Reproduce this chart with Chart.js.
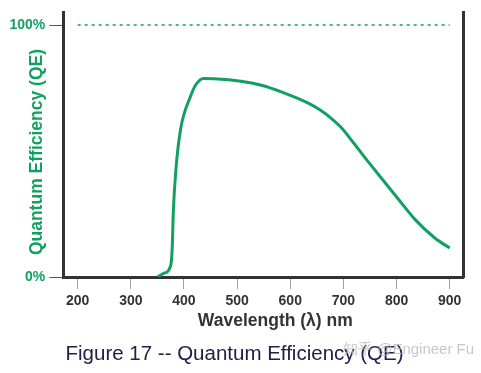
<!DOCTYPE html>
<html>
<head>
<meta charset="utf-8">
<script src="https://cdn.jsdelivr.net/npm/chart.js@4/dist/chart.umd.min.js"></script>
<style>
  html, body { margin: 0; padding: 0; background: #fff; }
  #wrap { width: 481px; height: 373px; }
</style>
</head>
<body>
<div id="wrap"><canvas id="qeChart" width="481" height="373"></canvas></div>
<script>
// Wavelength (nm) and quantum efficiency (%)
const wavelengths = [350, 362, 375, 378, 380, 385, 394, 412, 422, 437, 456, 507, 544, 588, 632, 657, 676, 695, 720, 739, 764, 802, 835, 872, 900];
const qeValues    = [0,   1.5, 4.5, 12,  26,  43,  59,  71.5, 76.2, 78.8, 78.7, 77.7, 76.2, 73.1, 69.2, 66.2, 63.2, 59.5, 53, 47.8, 41.2, 31.3, 22.8, 15.5, 11.5];

// 100% reference line
const refWavelengths = [200, 900];
const refValues = [100, 100];

const xTicks = [200, 300, 400, 500, 600, 700, 800, 900];
const yTicks = [0, 100];
const yTickLabels = { 0: '0%', 100: '100%' };

const GREEN = '#12a060';
const DARK = '#333333';
const FONT = "'Liberation Sans', Arial, sans-serif";

const watermark = {
    id: 'watermark',
    afterDraw(chart) {
        const ctx = chart.ctx;
        ctx.save();
        ctx.font = '15px ' + FONT;
        ctx.fillStyle = 'rgba(185, 185, 190, 0.8)';
        ctx.textBaseline = 'middle';
        ctx.fillText('知乎 @Engineer Fu', 343, 350);
        ctx.restore();
    }
};

new Chart(document.getElementById('qeChart').getContext('2d'), {
    type: 'line',
    data: {
        datasets: [{
            label: 'QE',
            data: wavelengths.map((w, i) => ({ x: w, y: qeValues[i] })),
            borderColor: GREEN,
            borderWidth: 3,
            pointRadius: 0,
            cubicInterpolationMode: 'monotone',
            fill: false
        }, {
            label: '100%',
            data: refWavelengths.map((w, i) => ({ x: w, y: refValues[i] })),
            borderColor: GREEN,
            borderWidth: 1.5,
            borderDash: [3, 4],
            pointRadius: 0,
            fill: false
        }]
    },
    plugins: [watermark],
    options: {
        responsive: false,
        animation: false,
        layout: { padding: { top: 10, right: 18, left: 6, bottom: 6 } },
        plugins: {
            legend: { display: false },
            tooltip: { enabled: false },
            title: {
                display: true,
                position: 'bottom',
                text: 'Figure 17 -- Quantum Efficiency (QE)',
                color: '#20204a',
                font: { family: FONT, size: 20.5, weight: 'normal' },
                padding: { top: 10.5, bottom: 0 }
            }
        },
        scales: {
            x: {
                type: 'linear',
                min: 173,
                max: 925,
                afterBuildTicks: (scale) => { scale.ticks = xTicks.map(v => ({ value: v })); },
                ticks: {
                    color: DARK,
                    font: { family: FONT, size: 14, weight: 'bold' },
                    padding: 4,
                    autoSkip: false,
                    maxRotation: 0
                },
                grid: { display: true, drawOnChartArea: false, drawTicks: true, tickLength: 12, color: '#a0a0a0', lineWidth: 1 },
                border: { display: true, color: DARK, width: 3 },
                title: {
                    display: true,
                    // leading spaces push the title right of centre as in the original
                    text: '     Wavelength (λ) nm',
                    color: DARK,
                    font: { family: FONT, size: 17.5, weight: 'bold' },
                    padding: { top: -3, bottom: 0 }
                }
            },
            y: {
                type: 'linear',
                min: 0,
                max: 105,
                afterBuildTicks: (scale) => { scale.ticks = yTicks.map(v => ({ value: v })); },
                ticks: {
                    color: GREEN,
                    font: { family: FONT, size: 14, weight: 'bold' },
                    padding: 4,
                    callback: (v) => yTickLabels[v] || ''
                },
                grid: { display: true, drawOnChartArea: false, drawTicks: true, tickLength: 14, color: '#555555', lineWidth: 1 },
                border: { display: true, color: DARK, width: 3 },
                title: {
                    display: true,
                    // trailing spaces nudge the rotated title down a little
                    text: 'Quantum Efficiency (QE)   ',
                    color: GREEN,
                    font: { family: FONT, size: 17.5, weight: 'bold' },
                    padding: { top: 20.5, bottom: -42 }
                }
            },
            yRight: {
                type: 'linear',
                position: 'right',
                min: 0,
                max: 105,
                ticks: { display: false },
                grid: { display: false, drawTicks: false },
                border: { display: true, color: DARK, width: 3 }
            }
        }
    }
});
</script>
</body>
</html>
